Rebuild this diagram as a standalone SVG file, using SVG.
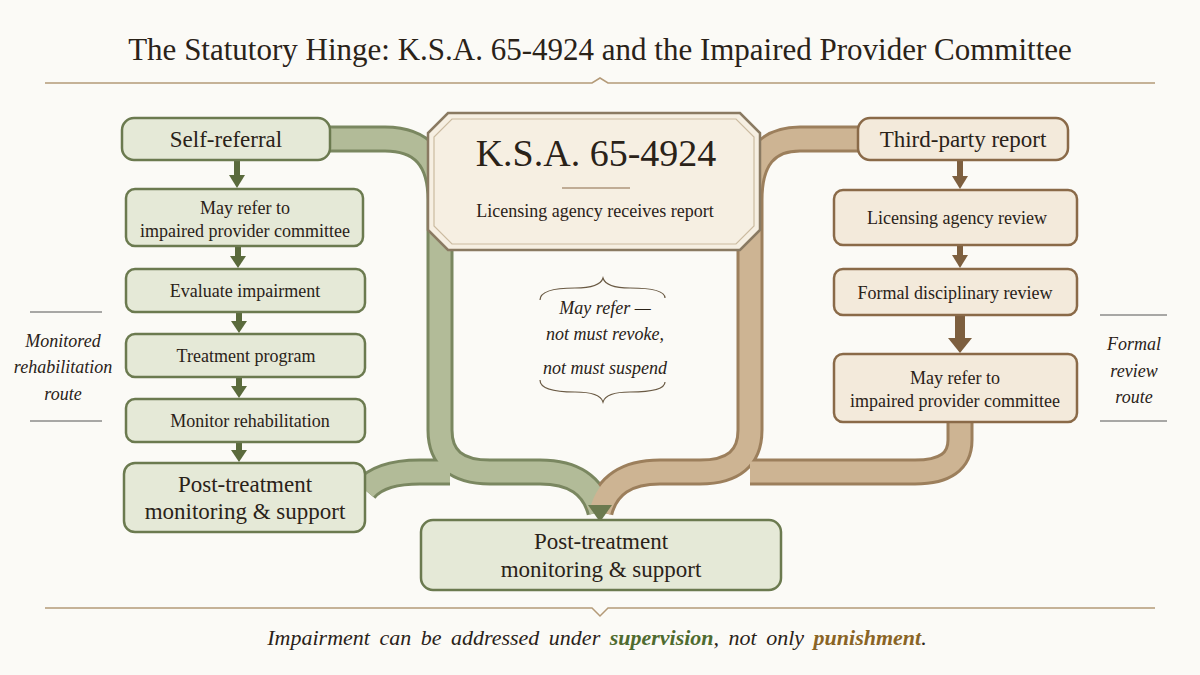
<svg xmlns="http://www.w3.org/2000/svg" width="1200" height="675" viewBox="0 0 1200 675">
<defs>
<style>
text{font-family:"Liberation Serif","DejaVu Serif",serif;fill:#2a2218}
.g{fill:#e5e9d7;stroke:#6b7a4f;stroke-width:2.5}
.t{fill:#f3eadb;stroke:#8a6a48;stroke-width:2.5}
.n{font-size:18px;text-anchor:middle}
.b{font-size:23px;text-anchor:middle}
.it{font-style:italic;font-size:18px;text-anchor:middle}
.gline{fill:none;stroke:#7a8760;stroke-width:27;stroke-linejoin:round}
.gfill{fill:none;stroke:#b2bb98;stroke-width:21;stroke-linejoin:round}
.tline{fill:none;stroke:#9c7f5c;stroke-width:27;stroke-linejoin:round}
.tfill{fill:none;stroke:#cdb493;stroke-width:21;stroke-linejoin:round}
.rule{stroke:#555;stroke-width:1}
.ag{fill:#5a6a3c}
.at{fill:#7d5f3f}
</style>
</defs>
<rect width="1200" height="675" fill="#fbfaf6"/>
<text x="600" y="60" font-size="31" text-anchor="middle" fill="#1e1810">The Statutory Hinge: K.S.A. 65-4924 and the Impaired Provider Committee</text>
<path d="M45,83 H592 L600,78 L608,83 H1155" fill="none" stroke="#b49a78" stroke-width="1.5"/>
<g id="connectors">
<path class="gline" d="M330,139 H385 Q440,139 440,200 V430 Q440,472 490,472 H540 Q590,472 600,512"/>
<path class="gline" d="M365,490 Q380,472 420,472 H450"/>
<path class="tline" d="M858,139 H800 Q750,139 750,200 V430 Q750,472 700,472 H660 Q610,472 600,512"/>
<path class="tline" d="M960,422 V440 Q960,472 915,472 H750"/>
<path class="gfill" d="M330,139 H385 Q440,139 440,200 V430 Q440,472 490,472 H540 Q590,472 600,512"/>
<path class="gfill" d="M365,490 Q380,472 420,472 H450"/>
<path class="tfill" d="M858,139 H800 Q750,139 750,200 V430 Q750,472 700,472 H660 Q610,472 600,512"/>
<path class="tfill" d="M960,422 V440 Q960,472 915,472 H750"/>
<path d="M588,505 L612,505 L600,522 Z" fill="#6b7a4f"/>
<g>
<rect class="ag" x="234" y="161" width="6" height="16"/><path class="ag" d="M229,175 H245 L237,188 Z"/>
<rect class="ag" x="235" y="247" width="6" height="10"/><path class="ag" d="M230,256 H246 L238,268 Z"/>
<rect class="ag" x="236" y="313" width="6" height="9"/><path class="ag" d="M231,321 H247 L239,333 Z"/>
<rect class="ag" x="236" y="378" width="6" height="9"/><path class="ag" d="M231,386 H247 L239,398 Z"/>
<rect class="ag" x="236" y="443" width="6" height="8"/><path class="ag" d="M231,450 H247 L239,462 Z"/>
<rect class="at" x="957" y="161" width="6" height="16"/><path class="at" d="M952,176 H968 L960,189 Z"/>
<rect class="at" x="957" y="246" width="6" height="10"/><path class="at" d="M952,255 H968 L960,268 Z"/>
<rect class="at" x="955" y="316" width="10" height="24"/><path class="at" d="M948,338 H972 L960,353 Z"/>
</g>
</g>
<g id="self-referral"><rect class="g" x="122" y="118" width="208" height="42" rx="12"/><text class="b" x="226" y="147" font-size="22">Self-referral</text></g>
<g id="l-refer"><rect class="g" x="126" y="189" width="237" height="57" rx="9"/><text class="n" x="245" y="214">May refer to</text><text class="n" x="245" y="237">impaired provider committee</text></g>
<g id="evaluate"><rect class="g" x="126" y="269" width="239" height="43" rx="9"/><text class="n" x="245" y="297">Evaluate impairment</text></g>
<g id="treatment"><rect class="g" x="126" y="334" width="239" height="43" rx="9"/><text class="n" x="246" y="362">Treatment program</text></g>
<g id="monitor"><rect class="g" x="126" y="399" width="239" height="43" rx="9"/><text class="n" x="250" y="427">Monitor rehabilitation</text></g>
<g id="l-post"><rect class="g" x="124" y="463" width="241" height="69" rx="11"/><text class="b" x="245" y="492" font-size="22">Post-treatment</text><text class="b" x="245" y="519" font-size="22">monitoring &amp; support</text></g>
<g id="left-label"><line class="rule" x1="30" y1="312" x2="102" y2="312"/><line class="rule" x1="30" y1="421" x2="102" y2="421"/><text class="it" x="63" y="347" font-size="17">Monitored</text><text class="it" x="63" y="373" font-size="17">rehabilitation</text><text class="it" x="63" y="400" font-size="17">route</text></g>
<g id="ksa"><path d="M448,113 H740 L760,133 V230 L740,250 H448 L428,230 V133 Z" fill="#f6efe2" stroke="#8a7a62" stroke-width="2.5"/><path d="M452,119 H736 L754,137 V226 L736,244 H452 L434,226 V137 Z" fill="none" stroke="#cbbba0" stroke-width="1.2"/><text x="596" y="166" font-size="38" text-anchor="middle">K.S.A. 65-4924</text><line x1="562" y1="188" x2="630" y2="188" stroke="#8a6a48" stroke-width="1.2"/><text class="n" x="595" y="217">Licensing agency receives report</text></g>
<g id="brace-note"><path d="M540,300 Q540,288 575,288 Q600,288 603,278 Q606,288 630,288 Q665,288 665,298" fill="none" stroke="#6a5a44" stroke-width="1.2"/><path d="M540,380 Q540,392 575,392 Q600,392 603,402 Q606,392 630,392 Q665,392 665,382" fill="none" stroke="#6a5a44" stroke-width="1.2"/><text class="it" x="605" y="314">May refer —</text><text class="it" x="605" y="340">not must revoke,</text><text class="it" x="605" y="374">not must suspend</text></g>
<g id="c-post"><rect class="g" x="421" y="520" width="360" height="70" rx="12" stroke-width="3"/><text class="b" x="601" y="549" font-size="24">Post-treatment</text><text class="b" x="601" y="577" font-size="24">monitoring &amp; support</text></g>
<g id="third-party"><rect class="t" x="858" y="118" width="210" height="42" rx="12"/><text class="b" x="963" y="147" font-size="20">Third-party report</text></g>
<g id="agency-review"><rect class="t" x="834" y="190" width="243" height="55" rx="9"/><text class="n" x="957" y="224">Licensing agency review</text></g>
<g id="disciplinary"><rect class="t" x="834" y="269" width="243" height="46" rx="9"/><text class="n" x="955" y="299">Formal disciplinary review</text></g>
<g id="r-refer"><rect class="t" x="834" y="354" width="243" height="68" rx="9"/><text class="n" x="955" y="384">May refer to</text><text class="n" x="955" y="407">impaired provider committee</text></g>
<g id="right-label"><line class="rule" x1="1100" y1="315" x2="1167" y2="315"/><line class="rule" x1="1100" y1="421" x2="1167" y2="421"/><text class="it" x="1134" y="350" font-size="19">Formal</text><text class="it" x="1134" y="377" font-size="19">review</text><text class="it" x="1134" y="403" font-size="19">route</text></g>
<g id="footer"><path d="M45,608 H592 L600,616 L608,608 H1155" fill="none" stroke="#b49a78" stroke-width="1.5"/><text x="597" y="645" font-size="22" font-style="italic" text-anchor="middle" word-spacing="4">Impairment can be addressed under <tspan font-weight="bold" fill="#4f6b2f">supervision</tspan>, not only <tspan font-weight="bold" fill="#8a6425">punishment</tspan>.</text></g>
</svg>
